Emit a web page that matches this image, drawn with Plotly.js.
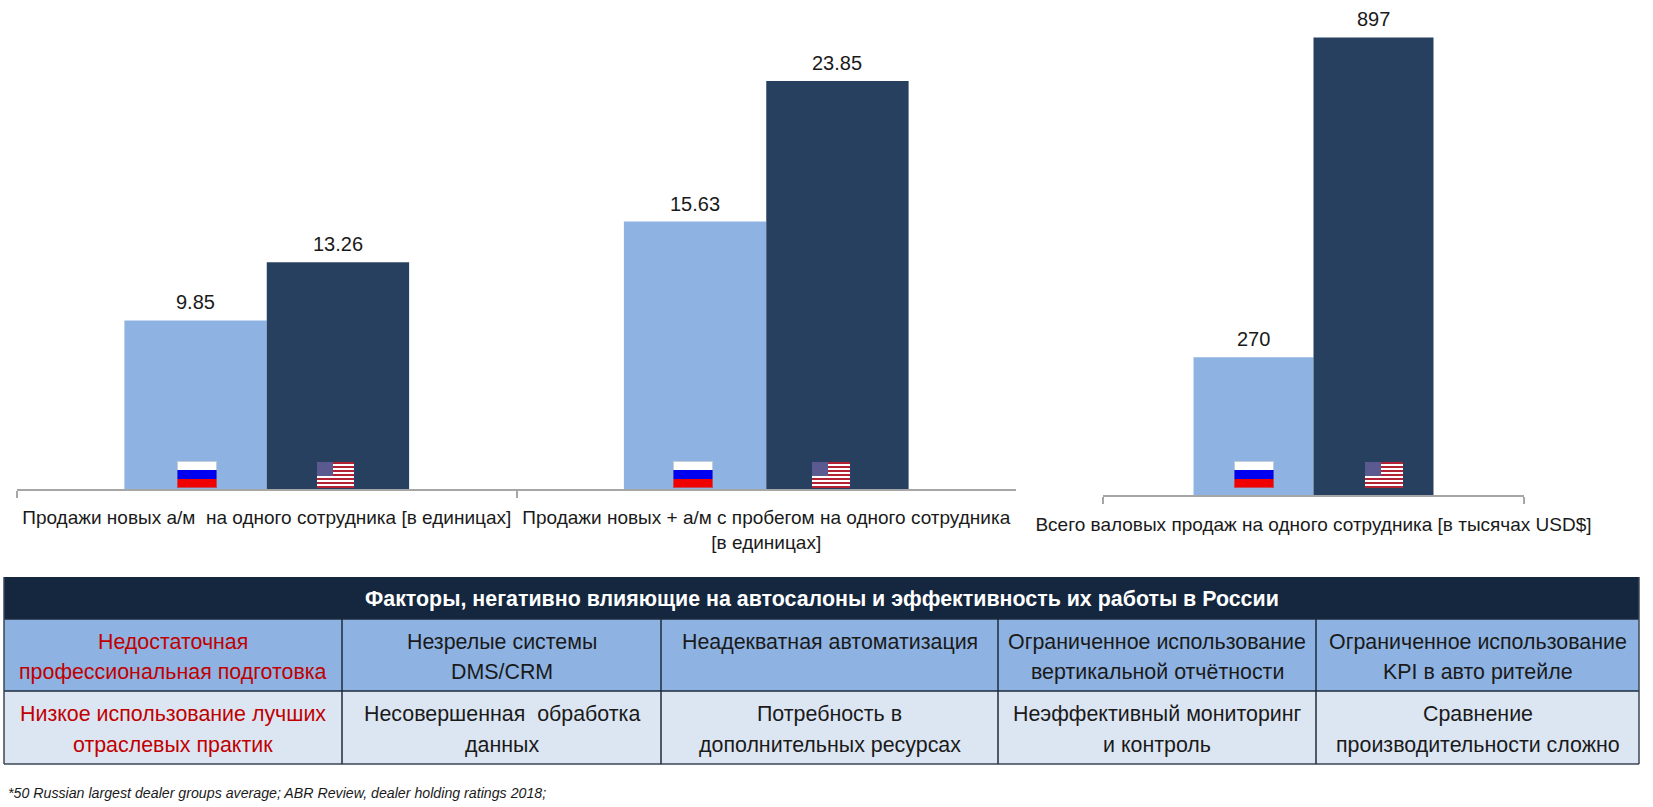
<!DOCTYPE html>
<html>
<head>
<meta charset="utf-8">
<script src="https://cdn.plot.ly/plotly-3.0.1.min.js"></script>
<style>html,body{margin:0;padding:0;background:#fff}</style>
</head>
<body>
<div id="chart" style="width:1653px;height:807px"></div>
<script>
var W = 1653, H = 807;

// bar values
var categoriesLeft = ['Продажи новых а/м  на одного сотрудника [в единицах]',
	'Продажи новых + а/м с пробегом на одного сотрудника<br>[в единицах]'];
var russiaLeft = [9.85, 15.63];
var usaLeft = [13.26, 23.85];
var categoriesRight = ['Всего валовых продаж на одного сотрудника [в тысячах USD$]'];
var russiaRight = [270];
var usaRight = [897];

// table texts, each row has its first and second line of text per column
var tableTitle = 'Факторы, негативно влияющие на автосалоны и эффективность их работы в России';
var row1Line1 = ['Недостаточная', 'Незрелые системы', 'Неадекватная автоматизация', 'Ограниченное использование', 'Ограниченное использование'];
var row1Line2 = ['профессиональная подготовка', 'DMS/CRM', '', 'вертикальной отчётности', 'KPI в авто ритейле'];
var row2Line1 = ['Низкое использование лучших', 'Несовершенная  обработка', 'Потребность в', 'Неэффективный мониторинг', 'Сравнение'];
var row2Line2 = ['отраслевых практик', 'данных', 'дополнительных ресурсах', 'и контроль', 'производительности сложно'];
var footnote = '*50 Russian largest dealer groups average; ABR Review, dealer holding ratings 2018;';

var FONT = 'Liberation Sans, Arial, sans-serif';
var TEXT = '#1a1a1a', RED = '#c00000', GREY = '#a6a6a6';
var LIGHT = '#8eb3e2', DARK = '#27405f', NAVY = '#14273f', PALE = '#dce6f2';
var TABLE_SIZE = 21.4;
var COL_EDGES = [4, 342, 661, 998, 1316, 1639];

function px(x) { return x / W; }
function py(y) { return 1 - y / H; }

var usaSvg = '<svg xmlns="http://www.w3.org/2000/svg" width="76" height="50" viewBox="0 0 19 13" shape-rendering="crispEdges">' +
	'<rect width="19" height="13" fill="#fff"/>' +
	'<path d="M0 0h19v1H0zM0 2h19v1H0zM0 4h19v1H0zM0 6h19v1H0zM0 8h19v1H0zM0 10h19v1H0zM0 12h19v1H0z" fill="#b22234"/>' +
	'<rect width="8" height="7" fill="#5a5a90"/></svg>';
var russiaSvg = '<svg xmlns="http://www.w3.org/2000/svg" width="80" height="54" viewBox="0 0 40 27" shape-rendering="crispEdges">' +
	'<rect width="40" height="9" fill="#fff"/><rect y="9" width="40" height="9" fill="#0000f0"/><rect y="18" width="40" height="9" fill="#f00000"/>' +
	'<rect x=".25" y=".25" width="39.5" height="26.5" fill="none" stroke="#8a9bb0" stroke-width=".5"/></svg>';

function flag(svg, x0, x1, y0, y1) {
	return {
		source: 'data:image/svg+xml;utf8,' + encodeURIComponent(svg),
		xref: 'paper', yref: 'paper', x: px(x0), y: py(y0),
		sizex: (x1 - x0) / W, sizey: (y1 - y0) / H,
		xanchor: 'left', yanchor: 'top', sizing: 'stretch', layer: 'above'
	};
}

function valueLabel(xref, yref, x, y, text) {
	return {
		xref: xref, yref: yref, x: x, y: y, text: text, showarrow: false,
		yanchor: 'bottom', yshift: 5, font: { family: FONT, size: 20, color: TEXT }
	};
}

function tableText(x, y, text, color, bold) {
	return {
		xref: 'paper', yref: 'paper', x: px(x), y: py(y), xanchor: 'center', yanchor: 'middle',
		text: bold ? '<b>' + text + '</b>' : text, showarrow: false,
		font: { family: FONT, size: TABLE_SIZE, color: color }
	};
}

function barTrace(x, y, color, xa, ya) {
	return { type: 'bar', x: x, y: y, xaxis: xa, yaxis: ya, marker: { color: color, line: { width: 0 } }, hoverinfo: 'x+y', showlegend: false };
}

var data = [
	barTrace(categoriesLeft, russiaLeft, LIGHT, 'x', 'y'),
	barTrace(categoriesLeft, usaLeft, DARK, 'x', 'y'),
	barTrace(categoriesRight, russiaRight, LIGHT, 'x2', 'y2'),
	barTrace(categoriesRight, usaRight, DARK, 'x2', 'y2')
];

// value labels above bars
var annotations = [];
var half = 0.1425;
for (var i = 0; i < categoriesLeft.length; i++) {
	annotations.push(valueLabel('x', 'y', i - half, russiaLeft[i], russiaLeft[i].toFixed(2)));
	annotations.push(valueLabel('x', 'y', i + half, usaLeft[i], usaLeft[i].toFixed(2)));
}
annotations.push(valueLabel('x2', 'y2', -half, russiaRight[0], String(russiaRight[0])));
annotations.push(valueLabel('x2', 'y2', half, usaRight[0], String(usaRight[0])));

// table texts
annotations.push(tableText(822, 599, tableTitle, '#ffffff', true));
function addRow(lines, y) {
	for (var c = 0; c < lines.length; c++) {
		if (lines[c]) annotations.push(tableText((COL_EDGES[c] + COL_EDGES[c + 1]) / 2, y, lines[c], c == 0 ? RED : TEXT));
	}
}
addRow(row1Line1, 642);
addRow(row1Line2, 672);
addRow(row2Line1, 714);
addRow(row2Line2, 745);

annotations.push({
	xref: 'paper', yref: 'paper', x: px(6), y: py(793), xanchor: 'left', yanchor: 'middle',
	text: '<i>' + footnote + '</i>', showarrow: false, font: { family: FONT, size: 14.2, color: TEXT }
});

// table background and grid
function rect(x0, x1, y0, y1, fill) {
	return { type: 'rect', xref: 'paper', yref: 'paper', x0: px(x0), x1: px(x1), y0: py(y0), y1: py(y1), fillcolor: fill, line: { width: 0 }, layer: 'below' };
}
function rule(x0, x1, y0, y1, w, col) {
	return { type: 'line', xref: 'paper', yref: 'paper', x0: px(x0), x1: px(x1), y0: py(y0), y1: py(y1), line: { width: w, color: col }, layer: 'above' };
}
var shapes = [
	rect(4, 1639, 577, 619, NAVY),
	rect(4, 1639, 619, 691, LIGHT),
	rect(4, 1639, 691, 764, PALE),
	rule(4, 1639, 619, 619, 1.5, '#1c2b3c'),
	rule(4, 1639, 691, 691, 1.5, '#1c2b3c'),
	rule(4, 1639, 764, 764, 1.5, '#3a4654'),
	rule(4, 4, 577, 764, 1.5, '#3a4654'),
	rule(1639, 1639, 577, 764, 1.5, '#3a4654')
];
COL_EDGES.slice(1, 5).forEach(function (x) {
	shapes.push(rule(x, x, 619, 764, 1.5, '#1c2b3c'));
});

var images = [
	flag(russiaSvg, 177, 217, 461, 488), flag(usaSvg, 316, 355, 462, 488),
	flag(russiaSvg, 673, 713, 461, 488), flag(usaSvg, 811, 851, 462, 488),
	flag(russiaSvg, 1234, 1274, 461, 488), flag(usaSvg, 1364, 1404, 462, 488)
];

function xAxis(x0, x1, standoff) {
	return {
		domain: [px(x0), px(x1)], type: 'category', tickson: 'boundaries', ticks: 'outside', ticklen: 7, tickwidth: 1.5,
		tickcolor: GREY, showline: true, linecolor: GREY, linewidth: 2, showgrid: false, zeroline: false, tickangle: 0,
		ticklabelstandoff: standoff, tickfont: { family: FONT, size: 19, color: TEXT }, automargin: false, fixedrange: true
	};
}
function yAxis(top, bottom, max, anchor) {
	return { domain: [py(bottom), py(top)], range: [0, max], visible: false, anchor: anchor, fixedrange: true };
}

var layout = {
	width: W, height: H, margin: { l: 0, r: 0, t: 0, b: 0 },
	paper_bgcolor: '#fff', plot_bgcolor: 'rgba(0,0,0,0)',
	barmode: 'group', bargap: 0.43, bargroupgap: 0, showlegend: false,
	xaxis: xAxis(17, 1016, 10), yaxis: yAxis(30, 489, 26.83, 'x'),
	xaxis2: Object.assign(xAxis(1103, 1524, 11), { anchor: 'y2' }), yaxis2: yAxis(20, 495, 931.3, 'x2'),
	annotations: annotations, shapes: shapes, images: images
};

Plotly.newPlot('chart', data, layout, { displayModeBar: false });
</script>
</body>
</html>
